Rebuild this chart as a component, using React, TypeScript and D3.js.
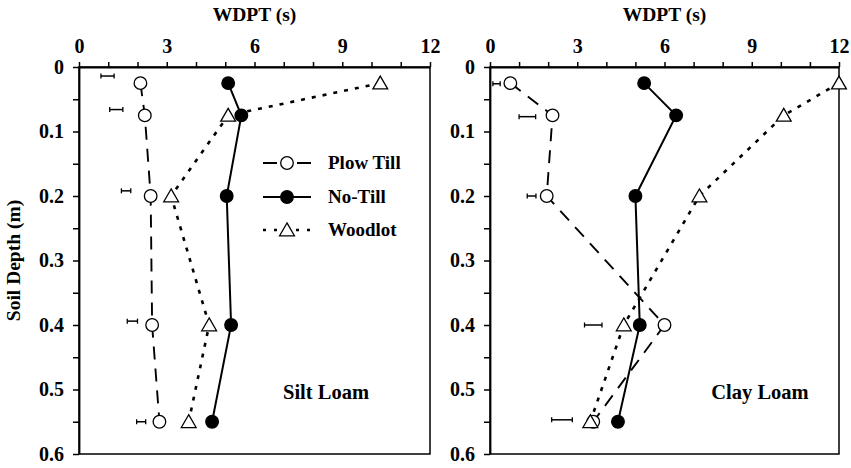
import { useEffect, useRef } from 'react';
import * as d3 from 'd3';

const depths = [0.025, 0.075, 0.2, 0.4, 0.55];
const xTicks = [0, 3, 6, 9, 12];
const yTicks = [0, 0.1, 0.2, 0.3, 0.4, 0.5, 0.6];

const siltPlow = [2.1, 2.25, 2.45, 2.5, 2.75];
const siltNoTill = [5.1, 5.55, 5.05, 5.2, 4.55];
const siltWoodlot = [10.3, 5.1, 3.15, 4.45, 3.75];
const siltBarDepth = [0.014, 0.066, 0.192, 0.394, 0.55];
const siltBarLo = [0.75, 1.05, 1.45, 1.65, 1.97];
const siltBarHi = [1.2, 1.5, 1.77, 2.0, 2.28];

const clayPlow = [0.7, 2.15, 1.95, 6.0, 3.55];
const clayNoTill = [5.3, 6.4, 5.0, 5.15, 4.4];
const clayWoodlot = [12.0, 10.1, 7.2, 4.6, 3.45];
const clayBarDepth = [0.026, 0.077, 0.2, 0.4, 0.547];
const clayBarLo = [0.1, 1.0, 1.28, 3.25, 2.12];
const clayBarHi = [0.35, 1.57, 1.58, 3.85, 2.83];

const seriesNames = ['Plow Till', 'No-Till', 'Woodlot'];

const FONT = '"Liberation Serif", "Times New Roman", serif';

type Pt = { x: number; d: number };

export default function App() {
    const svgRef = useRef<SVGSVGElement>(null);

    useEffect(() => {
        if (!svgRef.current) return;
        const root = d3.select(svgRef.current);
        root.selectAll('*').remove();

        const y = d3.scaleLinear().domain([0, 0.6]).range([67, 454]);

        const panels = [
            { x0: 79, x1: 430, plow: siltPlow, nt: siltNoTill, wl: siltWoodlot, bd: siltBarDepth, lo: siltBarLo, hi: siltBarHi, label: 'Silt Loam', lx: 326, ylab: true },
            { x0: 490, x1: 839, plow: clayPlow, nt: clayNoTill, wl: clayWoodlot, bd: clayBarDepth, lo: clayBarLo, hi: clayBarHi, label: 'Clay Loam', lx: 760, ylab: false }
        ];

        const styles = [
            { dash: '13,9', width: 1.9, marker: 'open' },
            { dash: null, width: 2, marker: 'filled' },
            { dash: '4,7', width: 2.6, marker: 'tri' }
        ];

        const tri = d3.symbol().type(d3.symbolTriangle).size(95);

        const drawMarker = (g: any, kind: string, cx: number, cy: number) => {
            if (kind === 'tri') {
                g.append('path')
                    .attr('d', tri())
                    .attr('transform', `translate(${cx},${cy + 1.5})`)
                    .attr('fill', '#fff')
                    .attr('stroke', '#000')
                    .attr('stroke-width', 1.3);
            } else {
                g.append('circle')
                    .attr('cx', cx)
                    .attr('cy', cy)
                    .attr('r', 6.3)
                    .attr('fill', kind === 'filled' ? '#000' : '#fff')
                    .attr('stroke', '#000')
                    .attr('stroke-width', 1.3);
            }
        };

        panels.forEach(p => {
            const x = d3.scaleLinear().domain([0, 12]).range([p.x0, p.x1]);
            const g = root.append('g');

            // frame
            g.append('rect')
                .attr('x', p.x0)
                .attr('y', y(0))
                .attr('width', p.x1 - p.x0)
                .attr('height', y(0.6) - y(0))
                .attr('fill', 'none')
                .attr('stroke', '#000')
                .attr('stroke-width', 1.5);

            // top axis
            const xAxis = g.append('g')
                .attr('transform', `translate(0,${y(0)})`)
                .call(d3.axisTop(x).tickValues(d3.range(0, 13, 1)).tickSize(5).tickFormat((d: any) => (xTicks.includes(+d) ? String(d) : '')).tickSizeOuter(0));
            xAxis.select('.domain').attr('stroke-width', 1.8);
            xAxis.selectAll('line').attr('stroke-width', 1.5);
            xAxis.selectAll('text')
                .attr('font-family', FONT)
                .attr('font-weight', 'bold')
                .attr('font-size', 20)
                .attr('fill', '#000')
                .attr('y', -14)
                .attr('dy', '0');

            // left axis
            const yAxis = g.append('g')
                .attr('transform', `translate(${p.x0},0)`)
                .call(d3.axisLeft(y).tickValues(d3.range(0, 0.61, 0.05)).tickSize(6).tickFormat((d: any) => {
                    const v = Math.round(+d * 100) / 100;
                    return yTicks.some(t => Math.abs(t - v) < 1e-6) ? String(v) : '';
                }).tickSizeOuter(0));
            yAxis.select('.domain').attr('stroke-width', 1.8);
            yAxis.selectAll('line').attr('stroke-width', 1.5);
            yAxis.selectAll('text')
                .attr('font-family', FONT)
                .attr('font-weight', 'bold')
                .attr('font-size', 20)
                .attr('fill', '#000')
                .attr('x', -15);

            // axis title
            g.append('text')
                .attr('x', (p.x0 + p.x1) / 2)
                .attr('y', 21)
                .attr('text-anchor', 'middle')
                .attr('font-family', FONT)
                .attr('font-weight', 'bold')
                .attr('font-size', 19.5)
                .text('WDPT (s)');

            if (p.ylab) {
                g.append('text')
                    .attr('transform', `translate(20,${(y(0) + y(0.6)) / 2}) rotate(-90)`)
                    .attr('text-anchor', 'middle')
                    .attr('font-family', FONT)
                    .attr('font-weight', 'bold')
                    .attr('font-size', 19.5)
                    .text('Soil Depth (m)');
            }

            // LSD bars
            p.bd.forEach((bd, i) => {
                const yy = y(bd);
                g.append('line').attr('x1', x(p.lo[i])).attr('x2', x(p.hi[i])).attr('y1', yy).attr('y2', yy).attr('stroke', '#000').attr('stroke-width', 1.5);
                [p.lo[i], p.hi[i]].forEach(v => {
                    g.append('line').attr('x1', x(v)).attr('x2', x(v)).attr('y1', yy - 2.5).attr('y2', yy + 2.5).attr('stroke', '#000').attr('stroke-width', 1.3);
                });
            });

            const line = d3.line<Pt>().x(d => x(d.x)).y(d => y(d.d));
            const sets = [p.plow, p.nt, p.wl];

            // lines first
            sets.forEach((vals, si) => {
                const pts = vals.map((v, i) => ({ x: v, d: depths[i] }));
                g.append('path')
                    .datum(pts)
                    .attr('d', line)
                    .attr('fill', 'none')
                    .attr('stroke', '#000')
                    .attr('stroke-width', styles[si].width)
                    .attr('stroke-dasharray', styles[si].dash);
            });

            // markers
            sets.forEach((vals, si) => {
                vals.forEach((v, i) => drawMarker(g, styles[si].marker, x(v), y(depths[i])));
            });

            g.append('text')
                .attr('x', p.lx)
                .attr('y', 399)
                .attr('text-anchor', 'middle')
                .attr('font-family', FONT)
                .attr('font-weight', 'bold')
                .attr('font-size', 20.5)
                .text(p.label);

            // legend in left panel
            if (p.ylab) {
                const rows = [163, 197, 230];
                seriesNames.forEach((name, si) => {
                    const ry = rows[si];
                    g.append('line')
                        .attr('x1', 263).attr('x2', 311).attr('y1', ry).attr('y2', ry)
                        .attr('stroke', '#000')
                        .attr('stroke-width', styles[si].width)
                        .attr('stroke-dasharray', si === 2 ? '3,8' : si === 0 ? '14,20' : null);
                    drawMarker(g, styles[si].marker, 287, ry);
                    g.append('text')
                        .attr('x', 328)
                        .attr('y', ry + 6)
                        .attr('font-family', FONT)
                        .attr('font-weight', 'bold')
                        .attr('font-size', 19)
                        .text(name);
                });
            }
        });
    }, []);

    return (
        <svg
            ref={svgRef}
            width={851}
            height={468}
            style={{ position: 'absolute', left: 0, top: 0, background: '#fff' }}
        />
    );
}
